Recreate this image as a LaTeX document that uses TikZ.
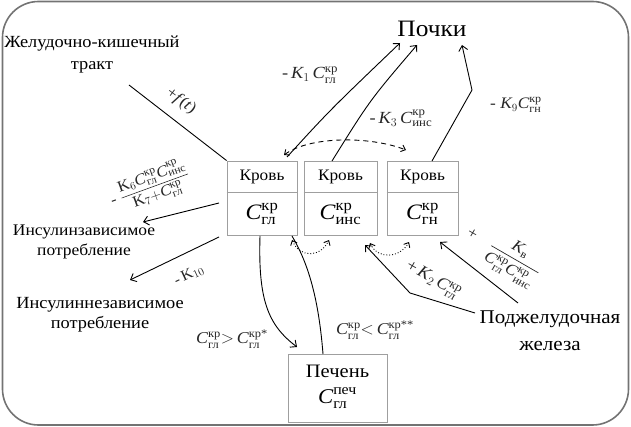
\documentclass[tikz,border=0pt]{standalone}
\usepackage{amsmath}
\usepackage{fontspec}
\setmainfont{Liberation Serif}[FakeStretch=1.08]
\usetikzlibrary{arrows.meta}
\newcommand\Cv[2]{\textit{C}^{\text{#1}}_{\text{#2}}}
\begin{document}
\begin{tikzpicture}[x=1pt,y=-1pt,
  lbl/.style={font=\fontsize{17}{21}\selectfont, align=center, inner sep=0pt},
  bx/.style={draw=gray!75, line width=0.9pt, minimum height=74pt, inner sep=0pt},
  arr/.style={-{Straight Barb[length=5pt,width=9pt]}, line width=0.9pt},
  dbl/.style={{Straight Barb[length=4pt,width=7pt]}-{Straight Barb[length=4pt,width=7pt]}, line width=0.9pt},
  ln/.style={line width=0.9pt},
  mlbl/.style={font=\fontsize{16}{18}\selectfont, inner sep=0pt, text=black!85},
]
\useasboundingbox (0,0) rectangle (631,427);
\draw[black!55, line width=1.6pt, rounded corners=36pt] (2.5,1.5) rectangle (628.5,425);

% boxes
\node[bx, minimum width=70pt] (b1) at (262,198) {};
\node[bx, minimum width=73pt] (b2) at (340.5,198) {};
\node[bx, minimum width=71pt] (b3) at (422.5,198) {};
\draw[gray!75, line width=0.9pt] (b1.west |- 0,192) -- (b1.east |- 0,192);
\draw[gray!75, line width=0.9pt] (b2.west |- 0,192) -- (b2.east |- 0,192);
\draw[gray!75, line width=0.9pt] (b3.west |- 0,192) -- (b3.east |- 0,192);
\node[lbl, font=\fontsize{16}{20}\selectfont] (k1) at (262,177) {Кровь};
\node[lbl, font=\fontsize{16}{20}\selectfont] (k2) at (340.5,177) {Кровь};
\node[lbl, font=\fontsize{16}{20}\selectfont] (k3) at (422.5,177) {Кровь};
\node[inner sep=0pt, font=\fontsize{22}{24}\selectfont] (c1) at (262,214) {$\Cv{кр}{гл}$};
\node[inner sep=0pt, font=\fontsize{22}{24}\selectfont] (c2) at (340.5,214) {$\Cv{кр}{инс}$};
\node[inner sep=0pt, font=\fontsize{22}{24}\selectfont] (c3) at (422.5,214) {$\Cv{кр}{гн}$};

\node[draw=gray!75, line width=0.9pt, minimum width=99pt, minimum height=68pt, inner sep=0pt] (liv) at (337.5,388) {};
\node[lbl, font=\fontsize{19}{22}\selectfont] (livt) at (337.5,371) {Печень};
\node[inner sep=0pt, font=\fontsize{21}{22}\selectfont] (livc) at (337.5,398) {$\Cv{печ}{гл}$};

% texts
\node[lbl, font=\fontsize{17}{22}\selectfont] (gi) at (92,54) {Желудочно-кишечный\\тракт};
\node[lbl, font=\fontsize{23.5}{26}\selectfont] (pochki) at (432,29) {Почки};
\node[lbl, font=\fontsize{16.2}{20}\selectfont] (insz) at (84,242) {Инсулинзависимое\\потребление};
\node[lbl, font=\fontsize{17}{20}\selectfont] (insnz) at (100,315) {Инсулиннезависимое\\потребление};
\node[lbl, font=\fontsize{19.5}{27}\selectfont] (panc) at (550,331) {Поджелудочная\\железа};

% coordinates
\coordinate (gis) at (129,85);
\coordinate (a1s) at (219,203);
\coordinate (a1e) at (143,222);
\coordinate (a2s) at (219,237);
\coordinate (a2e) at (130,280);
\coordinate (p1s) at (287,157);
\coordinate (p1e) at (400,43);
\coordinate (p3s) at (332,161);
\coordinate (p3e) at (417,45);
\coordinate (p9s) at (432,161);
\coordinate (p9m) at (472,90);
\coordinate (p9e) at (462,45);
\coordinate (ds) at (284,155);
\coordinate (de) at (406,150);
\coordinate (o1s) at (292,240);
\coordinate (o1e) at (329,240);
\coordinate (o2s) at (370,243);
\coordinate (o2e) at (409,242);
\coordinate (lvs) at (260,236);
\coordinate (lve) at (297,347);
\coordinate (lus) at (323,354);
\coordinate (lue) at (292,236);
\coordinate (pa1) at (475,313);
\coordinate (pam) at (410,293);
\coordinate (pae) at (365,245);
\coordinate (pb1) at (518,303);
\coordinate (pbe) at (440,242);

% connectors
\draw[ln] (gis) -- (b1.north west);
\draw[arr] (a1s) -- (a1e);
\draw[arr] (a2s) -- (a2e);
\draw[arr] (p1s) .. controls (330,110) .. (p1e);
\draw[arr] (p3s) .. controls (370,100) .. (p3e);
\draw[arr] (p9s) -- (p9m) -- (p9e);
\draw[dbl, dashed, dash pattern=on 5pt off 4pt] (ds) .. controls (310,136) and (370,136) .. (de);
\draw[dbl, dotted] (o1s) .. controls (300,258) and (320,258) .. (o1e);
\draw[dbl, dotted] (o2s) .. controls (378,260) and (400,258) .. (o2e);
\draw[arr] (lvs) .. controls (258,300) and (268,325) .. (lve);
\draw[ln] (lus) .. controls (318,290) and (305,258) .. (lue);
\draw[arr] (pa1) -- (pam) -- (pae);
\draw[arr] (pb1) -- (pbe);

% labels
\node[mlbl, rotate=-37] (lf) at (181,101) {+\textit{f}(\textit{t})};
\node[mlbl, font=\fontsize{15.5}{17}\selectfont, rotate=20] (l6) at (150,187) {-\ $\dfrac{\text{K}_6\Cv{кр}{гл}\Cv{кр}{инс}}{\text{K}_7{+}\Cv{кр}{гл}}$};
\node[mlbl, font=\fontsize{15}{17}\selectfont, rotate=25] (l10) at (189,275) {-\,K$_{10}$};
\node[mlbl, font=\fontsize{17}{19}\selectfont] (l1) at (310,75) {-\,$\textit{K}_1\,\Cv{кр}{гл}$};
\node[mlbl, font=\fontsize{17}{19}\selectfont] (l3) at (401,118) {-\,$\textit{K}_3\,\Cv{кр}{инс}$};
\node[mlbl, font=\fontsize{16}{18}\selectfont] (l9) at (516,105) {-\ $\textit{K}_9\Cv{кр}{гн}$};
\node[mlbl, font=\fontsize{16.5}{18}\selectfont] (lgt) at (232,339) {$\Cv{кр}{гл}{>}\,\Cv{кр*}{гл}$};
\node[mlbl, font=\fontsize{16.5}{18}\selectfont] (llt) at (375,330) {$\Cv{кр}{гл}{<}\,\Cv{кр**}{гл}$};
\node[mlbl, font=\fontsize{17}{19}\selectfont, rotate=-30] (l2) at (433,280) {+\,$\textit{K}_2\,\Cv{кр}{гл}$};
\node[mlbl, rotate=-30] (lb) at (503,254) {+\quad$\dfrac{\textit{K}_{\text{в}}}{\Cv{кр}{гл}\Cv{кр}{инс}}$};
\end{tikzpicture}
\end{document}
